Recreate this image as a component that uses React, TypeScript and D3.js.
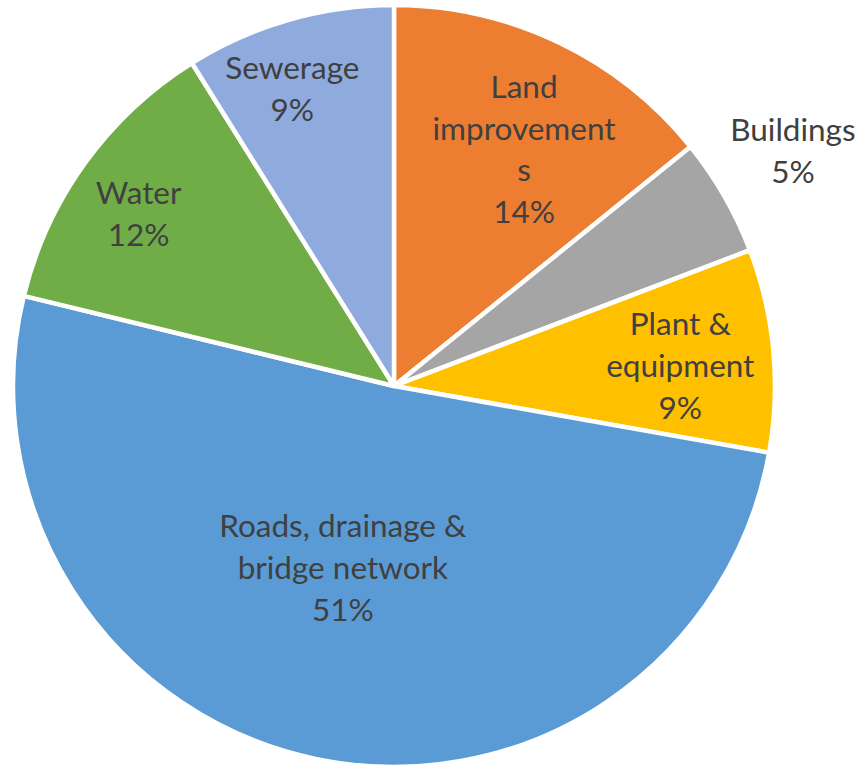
import React from "react";
import * as d3 from "d3";

const categories = ["Land improvements", "Buildings", "Plant & equipment", "Roads, drainage & bridge network", "Water", "Sewerage"];
const values = [14.2, 5.0, 8.6, 51.0, 12.3, 8.9];
const colors = ["#ED7D31", "#A5A5A5", "#FFC000", "#5B9BD5", "#70AD47", "#8FAADC"];
const labelLines = [
  ["Land", "improvement", "s"],
  ["Buildings"],
  ["Plant &", "equipment"],
  ["Roads, drainage &", "bridge network"],
  ["Water"],
  ["Sewerage"],
];
// label anchor in polar coords (degrees clockwise from north, distance from centre)
const labelAngle = [28.8, 59.5, 86, 195.7, 304, -18.9];
const labelDist = [270, 463, 287, 189, 308, 314];

const W = 861, H = 767;
const cx = 394, cy = 386, R = 381;
const fontSize = 31.5;
const lineH = 41.7;

export default function App() {
  const pie = d3.pie<number>().sort(null).value((d) => d)(values);
  const arc = d3.arc<d3.PieArcDatum<number>>().innerRadius(0).outerRadius(R);
  const total = d3.sum(values);
  return (
    <svg width={W} height={H} style={{ position: "absolute", left: 0, top: 0, background: "#fff" }}>
      <g transform={`translate(${cx},${cy})`}>
        {pie.map((p, i) => (
          <path key={i} d={arc(p) || ""} fill={colors[i]} stroke="#fff" strokeWidth={4.5} strokeLinejoin="round" />
        ))}
        {pie.map((p, i) => {
          const a = (labelAngle[i] * Math.PI) / 180;
          const x = Math.sin(a) * labelDist[i];
          const y = -Math.cos(a) * labelDist[i];
          const lines = [...labelLines[i], `${Math.round((values[i] / total) * 100)}%`];
          const y0 = y - ((lines.length - 1) * lineH) / 2;
          return (
            <text key={"t" + i} textAnchor="middle" fontFamily="Lato, 'Open Sans', sans-serif" fontSize={fontSize} fill="#404040">
              {lines.map((l, j) => (
                <tspan key={j} x={x} y={y0 + j * lineH} dy="0.35em">{l}</tspan>
              ))}
            </text>
          );
        })}
      </g>
    </svg>
  );
}
